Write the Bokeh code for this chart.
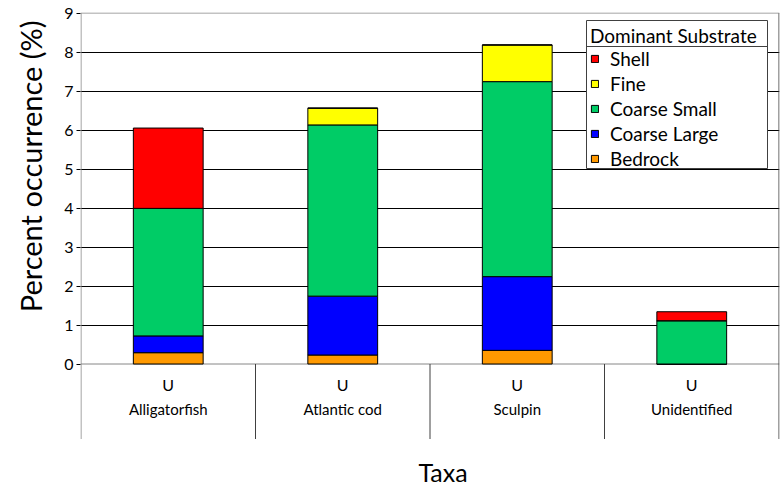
from bokeh.plotting import figure
from bokeh.models import Range1d, FixedTicker, Legend, LegendItem, Span, ColumnDataSource, Title
from bokeh.core.properties import value
from bokeh.embed import file_html
from bokeh.resources import INLINE

# ---- data ----
taxa = ["Alligatorfish", "Atlantic cod", "Sculpin", "Unidentified"]
sub_labels = ["U", "U", "U", "U"]
substrates = ["Bedrock", "Coarse Large", "Coarse Small", "Fine", "Shell"]
bedrock = [0.29, 0.23, 0.35, 0.0]
coarse_large = [0.43, 1.51, 1.89, 0.0]
coarse_small = [3.27, 4.39, 5.00, 1.11]
fine = [0.0, 0.43, 0.94, 0.0]
shell = [2.06, 0.0, 0.0, 0.23]
colors = ["#FF9900", "#0000FF", "#00CC66", "#FFFF00", "#FF0000"]
y_ticks = list(range(0, 10))
x_title = "Taxa"
y_title = "Percent occurrence (%)"
legend_title = "Dominant Substrate"

FONT = "Lato"
n = len(taxa)
y_top = y_ticks[-1]

# layout (pixels)
W, H = 780, 487
LEFT, TOP, RIGHT, BOTTOM = 80, 12, 1, 0
frame_w = W - LEFT - RIGHT
frame_h = H - TOP - BOTTOM
ppu_y = 39.0                      # pixels per y unit
ppu_x = (frame_w - 1) / n
x_rng = Range1d(-0.5 / ppu_x, n + 0.5 / ppu_x)
y_end = y_top + 0.5 / ppu_y
y_rng = Range1d(y_end - frame_h / ppu_y, y_end)
sep_bottom = -75 / ppu_y          # bottom of category separators
y_sub = -20 / ppu_y
y_name = -45 / ppu_y
y_xtitle = -108 / ppu_y

def px_x(px):   # page pixel -> data x
    return (px - LEFT - 0.5) / ppu_x

def px_y(py):   # page pixel -> data y
    return (TOP + 0.5 + y_top * ppu_y - py) / ppu_y

x_pos = [i + 0.5 for i in range(n)]
src = ColumnDataSource(dict(x=x_pos, taxa=taxa, sub=sub_labels,
                            Bedrock=bedrock, **{"Coarse Large": coarse_large},
                            **{"Coarse Small": coarse_small}, Fine=fine, Shell=shell))

p = figure(width=W, height=H, x_range=x_rng, y_range=y_rng,
           output_backend="svg", toolbar_location=None, x_axis_type=None,
           min_border_left=LEFT, min_border_top=TOP, min_border_right=RIGHT,
           min_border_bottom=BOTTOM)
p.outline_line_color = None
p.background_fill_color = "white"

# y axis
ax = p.yaxis[0]
ax.ticker = FixedTicker(ticks=y_ticks)
ax.axis_line_color = None
ax.major_tick_line_color = "black"
ax.major_tick_out = 4
ax.major_tick_in = 0
ax.minor_tick_line_color = None
ax.major_label_standoff = 3
ax.major_label_text_font = FONT
ax.major_label_text_font_size = "16px"
ax.major_label_text_color = "black"

yt = Title(text=y_title, align="right", offset=8, vertical_align="top", standoff=24,
           text_font=FONT, text_font_size="29px", text_font_style="normal", text_color="black")
p.add_layout(yt, "left")

p.ygrid.ticker = FixedTicker(ticks=y_ticks[1:-1])
p.ygrid.grid_line_color = "black"
p.ygrid.grid_line_width = 1

# frame lines
p.add_layout(Span(location=0, dimension="width", line_color="#868686", line_width=1, level="underlay"))
p.add_layout(Span(location=y_top, dimension="width", line_color="#868686", line_width=1))
p.segment(x0=[0], y0=[y_top], x1=[0], y1=[sep_bottom], line_color="#868686", line_width=1)
p.segment(x0=[n], y0=[y_top], x1=[n], y1=[sep_bottom], line_color="#404040", line_width=1)

# category separators
sep_x = list(range(1, n))
p.segment(x0=sep_x, y0=[0] * len(sep_x), x1=sep_x, y1=[sep_bottom] * len(sep_x),
          line_color="#404040", line_width=1)

# legend box (white panel with a rule under the title)
p.quad(left=[px_x(586)], right=[px_x(767)], top=[px_y(20)], bottom=[px_y(168)],
       fill_color="white", line_color="#404040", line_width=1)
p.segment(x0=[px_x(586)], y0=[px_y(46)], x1=[px_x(767)], y1=[px_y(46)],
          line_color="#404040", line_width=1)

# bars
renderers = p.vbar_stack(substrates, x="x", width=0.4, source=src, color=colors,
                         line_color="black", line_width=1)
for r, c in zip(renderers, colors):
    r.glyph.fill_color = c
    r.glyph.line_color = "black"

# category labels
p.text(x="x", y=y_sub, text="sub", source=src, text_font=value(FONT), text_font_size="16px",
       text_align="center", text_baseline="middle", text_color="black")
p.text(x="x", y=y_name, text="taxa", source=src, text_font=value(FONT), text_font_size="15px",
       text_align="center", text_baseline="middle", text_color="black")
p.text(x=[n / 2 + 13 / ppu_x], y=[y_xtitle], text=[x_title], text_font=value(FONT),
       text_font_size="25px", text_align="center", text_baseline="middle", text_color="black")

# legend
items = [LegendItem(label=name, renderers=[r]) for name, r in reversed(list(zip(substrates, renderers)))]
legend = Legend(items=items, location=(506, 313), title=legend_title)
legend.title_text_font = FONT
legend.title_text_font_size = "19px"
legend.title_text_font_style = "normal"
legend.title_text_color = "black"
legend.title_standoff = 0
legend.label_text_font = FONT
legend.label_text_font_size = "19px"
legend.label_text_color = "black"
legend.label_width = 153
legend.glyph_width = 9
legend.glyph_height = 9
legend.label_standoff = 11
legend.spacing = 2
legend.padding = 4
legend.margin = 0
legend.border_line_color = "#404040"
legend.border_line_alpha = 0
legend.background_fill_alpha = 0
p.add_layout(legend)

open("out.html", "w").write(file_html(p, INLINE))
